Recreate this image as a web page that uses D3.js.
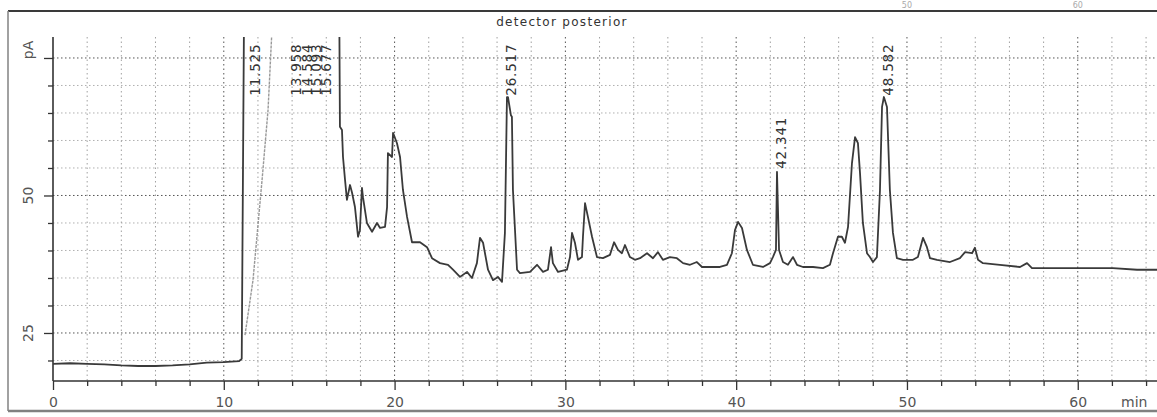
<!DOCTYPE html>
<html>
<head>
<meta charset="utf-8">
<script src="https://cdn.jsdelivr.net/npm/d3@7/dist/d3.min.js"></script>
<style>
  body { margin: 0; background: #fff; }
  svg { display: block; font-family: 'DejaVu Sans', sans-serif; }
</style>
</head>
<body>
<div id="chart"></div>
<script>
// chromatogram trace (min, pA); 90 = off scale
var traceTime = [0, 1, 2, 3, 4, 5, 6, 7, 8, 9, 10, 10.9, 11.05, 11.2, 16.75,
  16.80, 16.92, 16.98, 17.10, 17.21, 17.39, 17.51, 17.68, 17.86, 17.97, 18.09, 18.15, 18.38, 18.68, 18.97,
  19.15, 19.44, 19.56, 19.61, 19.85, 19.91, 20.14, 20.32, 20.49, 20.73, 21.02, 21.49, 21.90, 22.19, 22.66,
  23.13, 23.42, 23.83, 24.24, 24.53, 24.82, 25.00, 25.18, 25.47, 25.76, 26.05, 26.29, 26.46, 26.58, 26.64,
  26.81, 26.87, 26.93, 27.17, 27.34, 27.93, 28.34, 28.69, 28.98, 29.16, 29.27, 29.57, 30.09, 30.27, 30.39,
  30.56, 30.74, 30.97, 31.03, 31.15, 31.32, 31.56, 31.85, 32.20, 32.61, 32.85, 33.08, 33.31, 33.49, 33.78,
  34.07, 34.37, 34.78, 35.13, 35.42, 35.71, 36.12, 36.53, 36.89, 37.30, 37.70, 38.00, 38.47, 39.05, 39.46,
  39.75, 39.93, 40.11, 40.34, 40.63, 40.98, 41.57, 41.98, 42.15, 42.33, 42.39, 42.51, 42.74, 43.03, 43.33,
  43.56, 43.91, 44.50, 45.08, 45.49, 45.67, 45.96, 46.19, 46.37, 46.55, 46.78, 46.96, 47.13, 47.25, 47.42,
  47.66, 47.83, 48.01, 48.24, 48.42, 48.54, 48.65, 48.83, 49.00, 49.18, 49.41, 49.77, 50.35, 50.64, 50.94,
  51.17, 51.35, 51.76, 52.52, 53.10, 53.40, 53.81, 53.98, 54.16, 54.45, 55.44, 56.62, 57.03, 57.32, 58.96,
  60.89, 62.06, 63.47, 64.64];
var traceSignal = [19.4, 19.5, 19.4, 19.3, 19.1, 19.0, 19.0, 19.1, 19.3, 19.6, 19.7, 19.9, 20.3, 90, 90,
  62.5, 61.9, 57.0, 52.8, 49.2, 51.9, 50.5, 47.9, 42.5, 43.7, 51.4, 49.7, 45.0, 43.4, 45.0,
  44.1, 44.3, 47.9, 57.7, 57.0, 61.4, 59.5, 57.0, 51.0, 46.1, 41.5, 41.5, 40.6, 38.6, 37.7,
  37.4, 36.5, 35.2, 36.1, 35.0, 37.7, 42.3, 41.4, 36.5, 34.6, 35.2, 34.3, 43.2, 67.9, 67.9,
  64.6, 64.3, 51.0, 36.5, 35.9, 36.1, 37.4, 36.1, 36.5, 40.6, 37.7, 36.1, 36.5, 38.8, 43.2,
  41.4, 38.3, 38.8, 42.5, 48.6, 46.1, 42.5, 38.8, 38.6, 39.2, 41.5, 40.1, 39.5, 41.0, 38.8,
  38.3, 38.6, 39.5, 38.6, 39.7, 38.3, 38.8, 38.6, 37.7, 37.4, 37.9, 37.0, 37.0, 37.0, 37.4,
  39.5, 43.7, 45.2, 44.1, 40.1, 37.4, 37.0, 37.7, 38.8, 40.1, 54.3, 40.1, 37.9, 37.4, 38.8,
  37.4, 37.0, 37.0, 36.8, 37.4, 39.5, 42.5, 42.5, 41.4, 44.3, 55.9, 60.6, 59.5, 54.1, 45.0,
  39.5, 38.8, 37.9, 38.8, 51.0, 66.1, 67.9, 66.1, 51.0, 43.2, 38.6, 38.3, 38.3, 38.8, 42.3,
  40.6, 38.6, 38.3, 37.9, 38.6, 39.7, 39.5, 40.5, 38.3, 37.7, 37.4, 37.0, 37.7, 36.8, 36.8,
  36.8, 36.8, 36.5, 36.5];

// faint rising line next to the solvent front
var rampTime = [11.24, 11.71, 12.24, 12.59, 12.82, 12.88];
var rampSignal = [24.6, 34.6, 52.8, 65.5, 80.1, 83.4];

// retention time labels
var peakTimes = [11.525, 13.958, 14.584, 15.093, 15.677, 26.517, 42.341, 48.582];
var peakLabels = ['11.525', '13.958', '14.584', '15.093', '15.677', '26.517', '42.341', '48.582'];
var peakApex = [90, 90, 90, 90, 90, 67.9, 54.3, 67.9];

var xTickValues = d3.range(0, 65, 2);
var yTickValues = d3.range(20, 80, 5);
var yLabelValues = [25, 50, 75];
var yLabelTexts = ['25', '50', 'pA'];
var pageAboveLabels = [50, 60];

var width = 1157, height = 417;
var plot = { left: 53, right: 1157, top: 12, bottom: 381, clipTop: 37 };

var x = d3.scaleLinear().domain([0, 64.64]).range([plot.left, plot.right]);
var y = d3.scaleLinear().domain([16.27, 83.36]).range([plot.bottom, plot.top]);

var svg = d3.select('#chart').append('svg')
    .attr('width', width).attr('height', height);

svg.append('defs').append('clipPath').attr('id', 'plot-clip')
  .append('rect')
    .attr('x', plot.left).attr('y', plot.clipTop)
    .attr('width', plot.right - plot.left).attr('height', plot.bottom - plot.clipTop);

// labels of the page above, squeezed in over the frame
svg.append('g').selectAll('text')
  .data(pageAboveLabels).enter().append('text')
    .attr('x', function(d){ return x(d); }).attr('y', 8)
    .attr('text-anchor', 'middle')
    .style('font-size', '8px').style('fill', '#aaa')
    .text(function(d){ return d; });

// frame
svg.append('line').attr('x1', 8).attr('x2', width).attr('y1', 11).attr('y2', 11)
  .style('stroke', '#3a3a3a').style('stroke-width', 2.2);
svg.append('line').attr('x1', 8).attr('x2', 8).attr('y1', 11).attr('y2', 411)
  .style('stroke', '#8a8a8a').style('stroke-width', 1.6);
svg.append('line').attr('x1', 8).attr('x2', width).attr('y1', 411).attr('y2', 411)
  .style('stroke', '#808080').style('stroke-width', 2.5);

svg.append('text')
    .attr('x', 562).attr('y', 26)
    .attr('text-anchor', 'middle')
    .style('font-size', '12px').style('letter-spacing', '1.3px').style('fill', '#333')
    .text('detector posterior');

// grid
var grid = svg.append('g').attr('class', 'grid');
grid.selectAll('line.h')
  .data(yTickValues).enter().append('line')
    .attr('class', 'h')
    .attr('x1', plot.left).attr('x2', plot.right)
    .attr('y1', function(d){ return y(d); }).attr('y2', function(d){ return y(d); })
    .style('stroke', function(d){ return d % 25 === 0 ? '#555' : '#b0b0b0'; })
    .style('stroke-width', 1)
    .style('stroke-dasharray', '1.5,2.5');
grid.selectAll('line.v')
  .data(xTickValues.filter(function(d){ return d > 0; })).enter().append('line')
    .attr('class', 'v')
    .attr('y1', plot.clipTop).attr('y2', plot.bottom)
    .attr('x1', function(d){ return x(d); }).attr('x2', function(d){ return x(d); })
    .style('stroke', function(d){ return d % 10 === 0 ? '#555' : '#a0a0a0'; })
    .style('stroke-width', 1)
    .style('stroke-dasharray', '1.5,3');

// axes
var xAxis = svg.append('g')
    .attr('transform', 'translate(0,' + plot.bottom + ')')
    .call(d3.axisBottom(x).tickValues(xTickValues).tickSize(5).tickPadding(11)
      .tickFormat(function(d){ return d % 10 === 0 ? d : ''; }));
xAxis.select('.domain').attr('d', 'M' + plot.left + ',0H' + plot.right);
xAxis.selectAll('.tick').filter(function(d){ return d % 10 === 0; })
  .select('line').attr('y2', 9);

var yAxis = svg.append('g')
    .attr('transform', 'translate(' + plot.left + ',0)')
    .call(d3.axisLeft(y).tickValues(yTickValues).tickSize(5).tickFormat(''));
yAxis.select('.domain').attr('d', 'M0,' + plot.clipTop + 'V' + plot.bottom);
yAxis.selectAll('.tick').filter(function(d){ return d % 25 === 0; })
  .select('line').attr('x2', -9);

[xAxis, yAxis].forEach(function(a){
  a.select('.domain').style('stroke', '#333').style('stroke-width', 1.6);
  a.selectAll('.tick line').style('stroke', '#333').style('stroke-width', 1.3);
  a.selectAll('.tick text')
    .style('font-family', "'DejaVu Sans', sans-serif")
    .style('font-size', '14px').style('fill', '#555');
});

svg.append('text')
    .attr('x', 1121).attr('y', 407)
    .style('font-size', '14px').style('fill', '#555')
    .text('min');

svg.append('g').selectAll('text')
  .data(yLabelValues).enter().append('text')
    .attr('transform', function(d, i){
      var cy = y(d) - (yLabelTexts[i] === 'pA' ? 8 : 0);
      return 'translate(33,' + cy + ')rotate(-90)';
    })
    .attr('text-anchor', 'middle')
    .style('font-size', '14px').style('fill', '#555')
    .text(function(d, i){ return yLabelTexts[i]; });

// signal
var line = d3.line()
    .x(function(d){ return x(d[0]); })
    .y(function(d){ return y(d[1]); });

var body = svg.append('g').attr('clip-path', 'url(#plot-clip)');

body.append('path')
    .datum(d3.zip(rampTime, rampSignal))
    .attr('d', line)
    .style('fill', 'none').style('stroke', '#999')
    .style('stroke-width', 1.4).style('stroke-dasharray', '3,1');

body.append('path')
    .datum(d3.zip(traceTime, traceSignal))
    .attr('d', line)
    .style('fill', 'none').style('stroke', '#3a3a3a')
    .style('stroke-width', 1.8).style('stroke-linejoin', 'round');

// retention time labels, rotated, just above each apex
svg.append('g').selectAll('text')
  .data(peakTimes).enter().append('text')
    .attr('transform', function(d, i){
      var ly = y(Math.min(peakApex[i], 67.6)) - 3;
      return 'translate(' + (x(d) + 10) + ',' + ly + ')rotate(-90)';
    })
    .style('font-size', '13.5px').style('letter-spacing', '0.8px').style('fill', '#333')
    .text(function(d, i){ return peakLabels[i]; });
</script>
</body>
</html>
